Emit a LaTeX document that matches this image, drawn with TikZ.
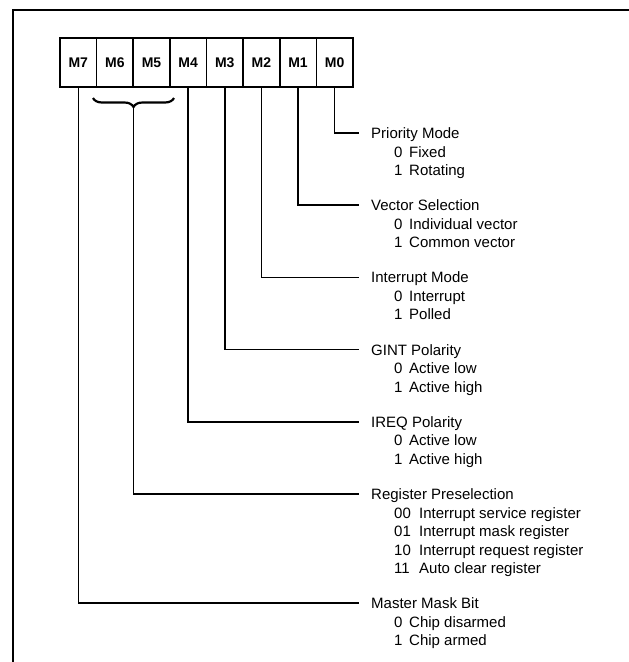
\documentclass[tikz,border=0pt]{standalone}
\usepackage{fontspec}
\setmainfont{Liberation Sans}
\usetikzlibrary{decorations.pathreplacing}
\begin{document}
\begin{tikzpicture}[x=1pt,y=-1pt,
  regcell/.style={draw,line width=1.7pt,minimum width=36.625pt,minimum height=49pt,inner sep=0pt,font=\fontsize{14}{16}\selectfont\bfseries},
  txt/.style={anchor=west,inner ysep=0pt,text height=11pt,text depth=0pt,font=\fontsize{15}{18}\selectfont},
  heading/.style={txt,inner xsep=12pt},
  digit/.style={txt,inner xsep=0pt},
  item/.style={txt,inner xsep=0pt},
  stem/.style={line width=1.6pt},
  frame/.style={line width=1.8pt}]
\useasboundingbox (0,0) rectangle (629,662);
% frame
\draw[frame] (13,662) -- (13,10) -- (629,10);
% register cells
\node[regcell] (m7) at (78.31,62.5) {M7};
\node[regcell] (m6) at (114.94,62.5) {M6};
\node[regcell] (m5) at (151.56,62.5) {M5};
\node[regcell] (m4) at (188.19,62.5) {M4};
\node[regcell] (m3) at (224.81,62.5) {M3};
\node[regcell] (m2) at (261.44,62.5) {M2};
\node[regcell] (m1) at (298.06,62.5) {M1};
\node[regcell] (m0) at (334.69,62.5) {M0};
% brace
\draw[line width=2.2pt,decorate,decoration={brace,amplitude=9pt}] (174,98) -- (93,98);
\coordinate (br) at (133.5,107);
% headings and items
\node[heading] (h0) at (359,133) {Priority Mode};
\node[digit] at (394,151.5) {0}; \node[item] at (409,151.5) {Fixed};
\node[digit] at (394,170) {1}; \node[item] at (409,170) {Rotating};

\node[heading] (h1) at (359,205.2) {Vector Selection};
\node[digit] at (394,223.7) {0}; \node[item] at (409,223.7) {Individual vector};
\node[digit] at (394,242.2) {1}; \node[item] at (409,242.2) {Common vector};

\node[heading] (h2) at (359,277.4) {Interrupt Mode};
\node[digit] at (394,295.9) {0}; \node[item] at (409,295.9) {Interrupt};
\node[digit] at (394,314.4) {1}; \node[item] at (409,314.4) {Polled};

\node[heading] (h3) at (359,349.6) {GINT Polarity};
\node[digit] at (394,368.1) {0}; \node[item] at (409,368.1) {Active low};
\node[digit] at (394,386.6) {1}; \node[item] at (409,386.6) {Active high};

\node[heading] (h4) at (359,421.8) {IREQ Polarity};
\node[digit] at (394,440.3) {0}; \node[item] at (409,440.3) {Active low};
\node[digit] at (394,458.8) {1}; \node[item] at (409,458.8) {Active high};

\node[heading] (h5) at (359,494) {Register Preselection};
\node[digit] at (394,512.5) {00}; \node[item] at (419,512.5) {Interrupt service register};
\node[digit] at (394,531) {01}; \node[item] at (419,531) {Interrupt mask register};
\node[digit] at (394,549.5) {10}; \node[item] at (419,549.5) {Interrupt request register};
\node[digit] at (394,568) {11}; \node[item] at (419,568) {Auto clear register};

\node[heading] (h7) at (359,603.2) {Master Mask Bit};
\node[digit] at (394,621.7) {0}; \node[item] at (409,621.7) {Chip disarmed};
\node[digit] at (394,640.2) {1}; \node[item] at (409,640.2) {Chip armed};
% stems
\draw[stem] (m0.south) |- (h0.west);
\draw[stem] (m1.south) |- (h1.west);
\draw[stem] (m2.south) |- (h2.west);
\draw[stem] (m3.south) |- (h3.west);
\draw[stem] (m4.south) |- (h4.west);
\draw[stem] (br) |- (h5.west);
\draw[stem] (m7.south) |- (h7.west);
\end{tikzpicture}
\end{document}
